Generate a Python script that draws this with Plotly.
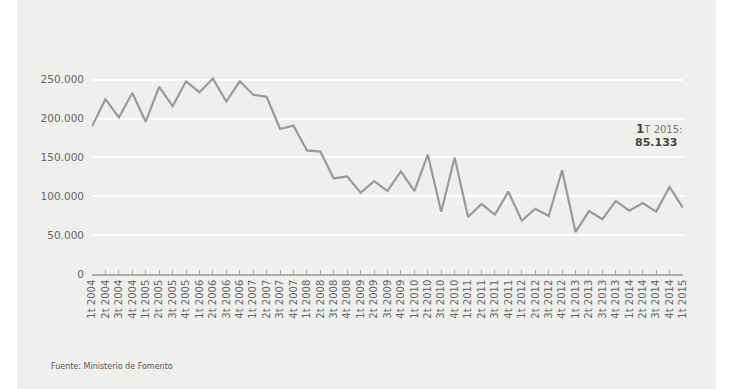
import plotly.graph_objects as go

quarters = ["1t", "2t", "3t", "4t"]
labels = [f"{q} {y}" for y in range(2004, 2015) for q in quarters] + ["1t 2015"]
values = [190000, 225000, 201500, 233000, 196000, 241000, 216000, 248000,
          234000, 251500, 222000, 248000, 230600, 228000, 186600, 191000,
          159000, 157600, 123000, 125500, 104600, 119600, 107000, 132000,
          106700, 153700, 80000, 150000, 73400, 90000, 76400, 106000,
          68700, 84000, 74700, 133600, 53800, 81000, 70500, 94000,
          81500, 91400, 80300, 112000, 85133]
y_ticks = [0, 50000, 100000, 150000, 200000, 250000]
source = "Fuente: Ministerio de Fomento"

W, H = 740, 389
L, R, T, B = 92, 57, 72, 115
pw, ph = W - L - R, H - T - B

xs = list(range(len(labels)))
fig = go.Figure()
fig.add_trace(go.Scatter(x=xs, y=values, mode="lines",
                         line=dict(color="#9a9a9a", width=2.2), hoverinfo="skip"))

# panel background
fig.add_shape(type="rect", xref="paper", yref="paper",
              x0=(17 - L) / pw, x1=(716 - L) / pw, y0=-B / ph, y1=(H - B) / ph,
              fillcolor="#eff0ee", line=dict(width=0), layer="below")

fig.update_layout(
    width=W, height=H, margin=dict(l=L, r=R, t=T, b=B),
    paper_bgcolor="white", plot_bgcolor="rgba(0,0,0,0)",
    separators=",.", showlegend=False,
    font=dict(family="DejaVu Sans", color="#666666"),
    xaxis=dict(range=[0, len(labels) - 1], tickvals=xs, ticktext=labels,
               tickangle=-90, tickfont=dict(size=10, color="#666666"),
               showgrid=False, zeroline=False, showline=True, linecolor="#aaaaaa",
               linewidth=1.5, ticks="inside", ticklen=4, tickcolor="#aaaaaa"),
    yaxis=dict(range=[0, 260000], tickvals=y_ticks, tickformat=",d",
               tickfont=dict(size=10.5, color="#666666"), showgrid=True,
               gridcolor="white", gridwidth=1.5, zeroline=False, showline=False,
               ticks="", ticklabelstandoff=7),
)

fig.add_annotation(xref="paper", yref="paper", x=(634 - L) / pw, y=(H - B - 129) / ph,
                   xanchor="left", yanchor="middle", showarrow=False,
                   text='<span style="font-size:12px;color:#444444"><b>1</b></span>'
                        '<span style="font-size:10px;color:#777777">T 2015:</span>')
fig.add_annotation(xref="paper", yref="paper", x=(633 - L) / pw, y=(H - B - 142) / ph,
                   xanchor="left", yanchor="middle", showarrow=False,
                   text="<b>85.133</b>", font=dict(size=11, color="#444444"))
fig.add_annotation(xref="paper", yref="paper", x=(49 - L) / pw, y=(H - B - 366) / ph,
                   xanchor="left", yanchor="middle", showarrow=False,
                   text=source, font=dict(size=8, color="#555555"))

fig.write_html("out.html", config={"displayModeBar": False},
               post_script="document.body.style.margin='0px';")
